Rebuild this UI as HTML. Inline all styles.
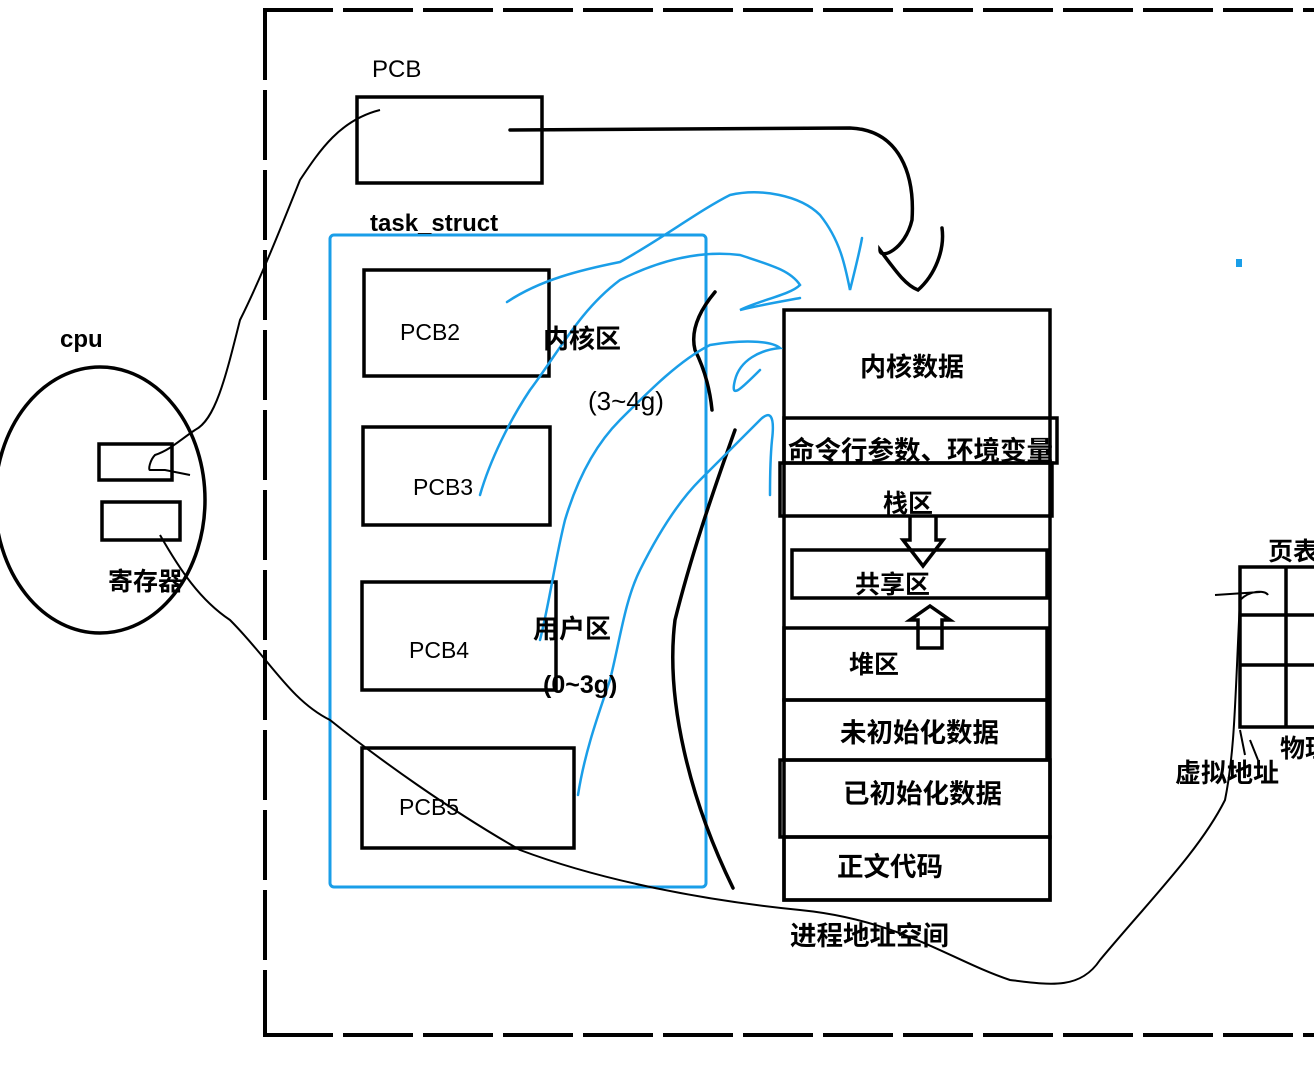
<!DOCTYPE html>
<html><head><meta charset="utf-8"><style>
html,body{margin:0;padding:0;background:#fff;}
svg{display:block;}
text{font-family:"Liberation Sans","Noto Sans CJK SC",sans-serif;fill:#000;}
.b{font-weight:bold;}
</style></head><body>
<svg width="1314" height="1068" viewBox="0 0 1314 1068" xmlns="http://www.w3.org/2000/svg">
<g fill="none" stroke="#000" stroke-width="4" stroke-dasharray="70,10">
<path d="M263 10 H1314"/>
<path d="M265 10 V1035"/>
<path d="M263 1035 H1314"/>
</g>
<g fill="none" stroke="#000" stroke-width="3.5">
<rect x="357" y="97" width="185" height="86"/>
<rect x="364" y="270" width="185" height="106"/>
<rect x="363" y="427" width="187" height="98"/>
<rect x="362" y="582" width="194" height="108"/>
<rect x="362" y="748" width="212" height="100"/>
<ellipse cx="100" cy="500" rx="105" ry="133"/>
<rect x="99" y="444" width="73" height="36"/>
<rect x="102" y="502" width="78" height="38"/>
<rect x="784" y="310" width="266" height="590"/>
<rect x="784" y="418" width="273" height="45"/>
<rect x="780" y="463" width="272" height="53"/>
<rect x="792" y="550" width="255" height="48"/>
<rect x="784" y="628" width="263" height="72"/>
<rect x="784" y="700" width="263" height="60"/>
<rect x="780" y="760" width="270" height="77"/>
<rect x="784" y="837" width="266" height="63"/>
<rect x="1240" y="567" width="80" height="160"/>
<path d="M1286 567 V727 M1240 615 H1314 M1240 665 H1314"/>
<path d="M910 516 V540 H903 L923 566 L943 540 H936 V516"/>
<path d="M918 648 V620 H910 L930 606 L950 620 H942 V648 H918Z"/>
</g>
<rect x="330" y="235" width="376" height="652" rx="4" fill="none" stroke="#1a9ee8" stroke-width="3"/>
<g fill="none" stroke="#000" stroke-width="3.5" stroke-linecap="round">
<path d="M510 130 C600 130 700 128 850 128 C900 130 915 175 912 220 C905 250 880 260 880 250 C895 270 905 285 918 290 C935 275 945 250 942 228"/>
<path d="M715 292 C700 310 690 330 695 350 C705 370 710 390 712 410"/>
<path d="M735 430 C710 500 690 560 675 620 C665 700 690 800 733 888"/>
</g>
<g fill="none" stroke="#000" stroke-width="2">
<path d="M380 110 C340 120 320 150 300 180 C280 230 260 280 240 320 C225 380 215 420 195 430 C180 440 170 450 155 455 C150 460 148 470 150 470 L165 470 L190 475"/>
<path d="M160 535 C180 570 200 600 230 620 C270 660 290 700 330 720 C380 760 450 810 520 850 C600 880 700 900 800 910 C900 920 950 960 1010 980 C1050 985 1080 990 1100 960 C1150 900 1200 850 1225 800 C1235 750 1235 700 1240 600 C1250 590 1265 590 1268 595 M1215 595 L1260 592 M1240 730 L1245 755 M1250 740 L1258 760"/>
</g>
<g fill="none" stroke="#1a9ee8" stroke-width="2.5" stroke-linecap="round">
<path d="M507 302 C540 280 580 270 620 262 C660 240 700 210 730 195 C760 188 800 195 820 215 C840 240 845 265 850 290 C855 270 860 250 862 238"/>
<path d="M480 495 C490 460 510 420 530 390 C560 350 580 310 620 280 C660 260 700 250 740 255 C770 265 790 270 800 285 C790 295 760 300 740 310 C760 305 790 300 800 298"/>
<path d="M540 640 C550 600 555 560 565 520 C580 470 600 440 620 420 C650 390 680 360 710 345 C740 340 770 340 780 348 C760 350 740 360 735 380 C730 400 740 390 760 370"/>
<path d="M578 795 C585 750 600 710 610 680 C620 640 625 600 640 570 C660 530 680 500 700 480 C720 460 740 440 760 420 C770 410 775 415 772 440 C770 460 770 480 770 495"/>
</g>
<rect x="1236" y="259" width="6" height="8" fill="#1a9ee8"/>
<text x="372" y="77" font-size="24">PCB</text>
<text x="370" y="231" font-size="24" class="b">task_struct</text>
<text x="400" y="340" font-size="23">PCB2</text>
<text x="413" y="495" font-size="23">PCB3</text>
<text x="409" y="658" font-size="23">PCB4</text>
<text x="399" y="815" font-size="23">PCB5</text>
<text x="543" y="348" font-size="26" class="b">内核区</text>
<text x="588" y="410" font-size="26">(3~4g)</text>
<text x="533" y="638" font-size="26" class="b">用户区</text>
<text x="543" y="693" font-size="25" class="b">(0~3g)</text>
<text x="60" y="347" font-size="24" class="b">cpu</text>
<text x="108" y="590" font-size="25" class="b">寄存器</text>
<text x="860" y="376" font-size="26" class="b">内核数据</text>
<text x="788" y="460" font-size="26.5" class="b">命令行参数、环境变量</text>
<text x="883" y="512" font-size="25" class="b">栈区</text>
<text x="855" y="593" font-size="25" class="b">共享区</text>
<text x="849" y="673" font-size="25" class="b">堆区</text>
<text x="840" y="742" font-size="26.5" class="b">未初始化数据</text>
<text x="843" y="803" font-size="26.5" class="b">已初始化数据</text>
<text x="837" y="876" font-size="26.5" class="b">正文代码</text>
<text x="790" y="945" font-size="26.5" class="b">进程地址空间</text>
<text x="1268" y="560" font-size="25" class="b">页表</text>
<text x="1280" y="757" font-size="25" class="b">物理</text>
<text x="1175" y="782" font-size="26" class="b">虚拟地址</text>
</svg>
</body></html>
